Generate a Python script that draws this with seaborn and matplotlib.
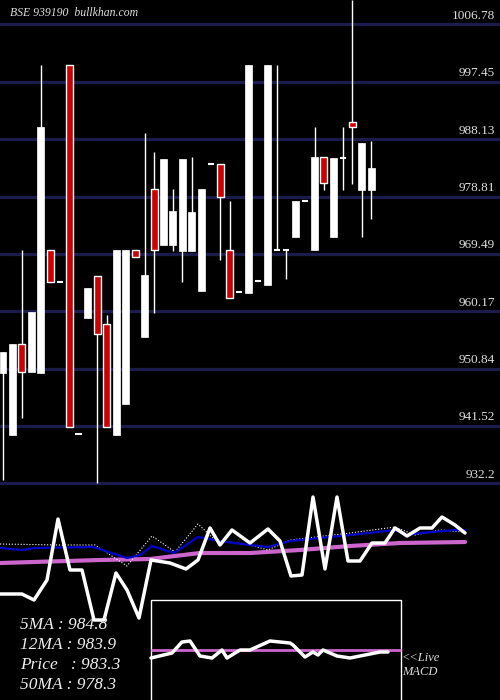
import matplotlib
matplotlib.use("Agg")
import matplotlib.pyplot as plt
import seaborn as sns
import pandas as pd
import numpy as np

opens  = [950.11,940.03,954.83,950.28,950.11,970.12,964.91,1000.19,940.19,959.06,965.89,958.08,940.03,945.07,970.12,955.97,980.04,970.93,970.93,969.95,969.95,963.45,984.10,984.10,970.12,963.29,963.12,965.08,964.43,970.12,970.12,972.23,978.08,970.12,985.24,972.23,985.07,990.93,979.87,979.87]
highs  = [953.53,954.83,970.12,960.03,1000.19,970.12,964.91,1000.19,940.19,963.94,965.89,959.54,970.12,970.12,970.12,989.14,986.05,984.91,980.04,984.91,985.24,980.04,984.10,984.10,978.08,963.29,1000.19,965.08,1000.19,1000.19,970.12,978.08,978.08,990.11,985.24,985.07,990.11,1010.76,987.51,987.84]
lows   = [932.72,940.03,942.79,950.28,950.11,964.91,964.91,941.33,940.19,959.06,932.23,941.33,940.03,945.07,968.98,955.97,959.87,970.93,969.95,964.91,969.95,963.45,984.10,968.49,962.31,963.29,963.12,965.08,964.43,970.12,965.40,972.23,978.08,970.12,979.87,972.23,979.87,980.85,972.23,975.16]
closes = [953.53,954.83,950.28,960.03,990.11,964.91,964.91,941.33,940.19,963.94,956.45,941.33,970.12,970.12,968.98,966.05,970.12,984.91,976.45,984.91,976.29,980.04,984.10,978.73,962.31,963.29,1000.19,965.08,1000.19,970.12,970.12,978.08,978.08,985.24,981.01,985.07,985.07,990.11,987.51,983.45]
price_ticks = [1006.78,997.45,988.13,978.81,969.49,960.17,950.84,941.52,932.2]

# lower panel (pixel-like coordinates)
osc_x = [0,22,34,47,58,70,82,94,104,116,127,139,151,170,186,198,210,220,232,250,268,280,291,302,313,325,337,348,360,372,385,395,407,420,432,442,455,465]
osc_y = [594,594,600,580,519,570,570,620,620,573,590,618,560,563,569,560,528,545,530,543,529,541,576,575,497,569,497,561,561,543,543,528,536,528,528,517,525,533]
ma_x = [0,22,35,93,127,140,152,174,198,220,250,268,290,350,395,407,420,455,465]
ma_y = [548,550,548,547,558,555,546,553,537,541,545,547,541,535,530,535,533,530,530]
dot_x = [0,60,95,127,152,175,198,215,250,268,290,350,395,415,440,465]
dot_y = [544,545,545,566,536,552,524,540,545,550,540,533,527,535,530,532]
ma50_x = [0,100,150,200,250,300,350,400,465]
ma50_y = [563,560,559,553,553,550,546,543,542]
macd_x = [151,172,182,190,200,212,222,227,240,250,270,290,293,305,313,318,323,337,350,380,388]
macd_y = [658,653,642,641,656,658,650,658,650,650,641,643,645,657,652,655,650,656,658,652,652]

sns.set_theme(style="dark")
plt.rcParams['font.family'] = ['Liberation Serif', 'DejaVu Serif']
fig = plt.figure(figsize=(5, 7), dpi=100, facecolor="black")

ax = fig.add_axes([0, 1 - 487/700, 1, 487/700])
ax.set_facecolor("black")
for s in ax.spines.values():
    s.set_visible(False)
n = len(opens)
idx = np.arange(n)
ax.set_xlim((0 - 3) / 9.44, (500 - 3) / 9.44)
ax.set_ylim(931.58, 1010.76)
for t in price_ticks:
    ax.axhline(t, color="#1c1c4c", lw=2.3, zorder=0)
    ax.text(0.99, t + 0.4, f"{t:g}", transform=ax.get_yaxis_transform(), ha="right",
            va="bottom", color="#dddddd", fontsize=9.5)
w = 0.74
for i in idx:
    o, h, l, c = opens[i], highs[i], lows[i], closes[i]
    ax.vlines(i, l, h, color="white", lw=1, zorder=1)
    if abs(o - c) < 0.3:
        ax.hlines(o, i - 0.33, i + 0.33, color="white", lw=1.5, zorder=2)
    elif c > o:
        ax.bar(i, c - o, bottom=o, width=w, color="white", edgecolor="white", lw=0.5, zorder=2)
    else:
        ax.bar(i, o - c, bottom=c, width=w, color="#cc0000", edgecolor="white", lw=1, zorder=2)
ax.set_xticks([]); ax.set_yticks([])
ax.text(0.02, 0.985, "BSE 939190  bullkhan.com", transform=ax.transAxes, color="#dddddd",
        fontsize=8.5, style="italic", va="top")

bx = fig.add_axes([0, 0, 1, 210/700])
bx.set_facecolor("black")
for s in bx.spines.values():
    s.set_visible(False)
bx.set_xlim(0, 500); bx.set_ylim(700, 490)
bx.set_xticks([]); bx.set_yticks([])
sns.lineplot(x=ma50_x, y=ma50_y, ax=bx, color="#cc66cc", lw=3, sort=False)
sns.lineplot(x=dot_x, y=dot_y, ax=bx, color="white", lw=0.8, ls=":", sort=False)
sns.lineplot(x=ma_x, y=ma_y, ax=bx, color="#0000cc", lw=1.6, sort=False)
sns.lineplot(x=osc_x, y=osc_y, ax=bx, color="white", lw=2.5, sort=False)
bx.add_patch(plt.Rectangle((151, 600), 250, 102, fill=True, facecolor="black", edgecolor="white", lw=1, zorder=3))
bx.hlines(650, 151, 401, color="#cc66cc", lw=2, zorder=4)
bx.plot(macd_x, macd_y, color="white", lw=2.5, zorder=5)
labels = ["5MA : 984.8", "12MA : 983.9", "Price   : 983.3", "50MA : 978.3"]
for k, lab in enumerate(labels):
    bx.text(20, 625 + k*20, lab, color="#eeeeee", fontsize=12.5, style="italic", va="center", zorder=2)
bx.text(402, 665, "<<Live\nMACD", color="#dddddd", fontsize=9, style="italic", va="center", linespacing=1.3)

fig.savefig("out.png", dpi=100, facecolor="black")
